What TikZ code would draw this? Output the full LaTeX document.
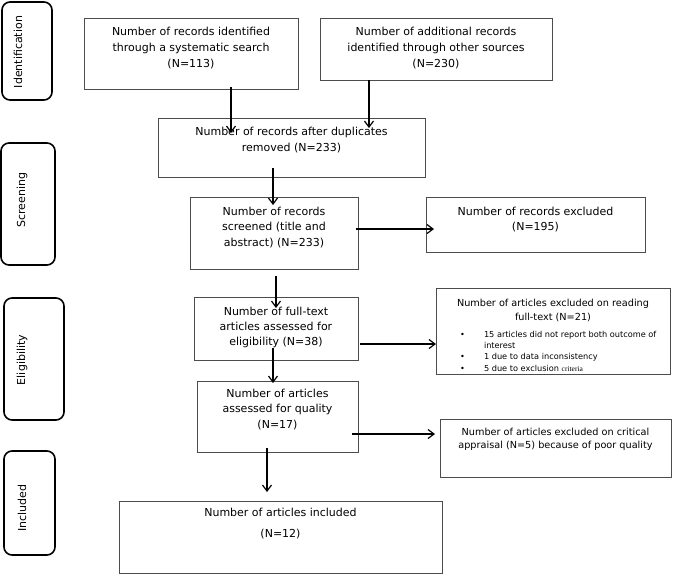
\documentclass[tikz,border=0pt]{standalone}
\usepackage{fontspec}
\setmainfont{DejaVu Sans}
\newfontfamily\smallserif{Liberation Serif}
\usetikzlibrary{arrows.meta}
\newcommand{\bxt}[5]{\parbox[c][#2][t]{#1}{\centering\fontsize{#4}{#5}\selectfont\rule{0pt}{#3}#5}}
\newcommand{\boxtxt}[5]{\parbox[c][#2][t]{#1}{\centering\fontsize{11}{#4}\selectfont\rule{0pt}{#3}#5}}
\tikzset{
  flowbox/.style={draw=black!70, line width=0.9pt, inner sep=0pt, outer sep=0pt, rectangle},
  sidebox/.style={draw=black, line width=1.6pt, rounded corners=8pt, inner sep=0pt, outer sep=0pt, rectangle},
  sidetext/.style={rotate=90, font=\fontsize{11}{13}\selectfont, inner sep=0pt},
  arr/.style={draw=black, line width=1.2pt, -{Straight Barb[length=6pt,width=9pt,line width=1.2pt]}}
}
\begin{document}
\begin{tikzpicture}[x=1pt,y=-1pt]
\useasboundingbox[fill=white] (0,0) rectangle (673,574);

% side labels
\node[sidebox, minimum width=50pt, minimum height=98pt] (sid) at (27,51) {};
\node[sidetext] (sidt) at (18,52) {Identification};
\node[sidebox, minimum width=54pt, minimum height=122pt] (sscr) at (28,204) {};
\node[sidetext] (sscrt) at (22,200) {Screening};
\node[sidebox, minimum width=60pt, minimum height=122pt] (selg) at (34,359) {};
\node[sidetext] (selgt) at (22,360) {Eligibility};
\node[sidebox, minimum width=51pt, minimum height=104pt] (sinc) at (29.5,503) {};
\node[sidetext] (sinct) at (22,508) {Included};

% flow boxes
\node[flowbox] (A) at (191,53.5) {\boxtxt{214pt}{71pt}{17pt}{16pt}{Number of records identified\\through a systematic search\\(N=113)}};
\node[flowbox] (B) at (436,49) {\boxtxt{232pt}{62pt}{17pt}{16pt}{Number of additional records\\identified through other sources\\(N=230)}};
\node[flowbox] (C) at (291.5,147.5) {\boxtxt{267pt}{59pt}{17pt}{16pt}{Number of records after duplicates\\removed (N=233)}};
\node[flowbox] (D) at (274,233) {\boxtxt{168pt}{72pt}{18pt}{15.5pt}{Number of records\\screened (title and\\abstract) (N=233)}};
\node[flowbox] (E) at (535.5,224.5) {\boxtxt{219pt}{55pt}{18pt}{15.5pt}{Number of records excluded\\(N=195)}};
\node[flowbox] (F) at (276,328.5) {\boxtxt{164pt}{63pt}{18pt}{15pt}{Number of full-text\\articles assessed for\\eligibility (N=38)}};
\node[flowbox] (G) at (553,331) {\parbox[c][86pt][t]{234pt}{\centering\fontsize{9.7}{14}\selectfont\rule{0pt}{18.5pt}Number of articles excluded on reading\\full-text (N=21)\par
\vspace{5.5pt}\raggedright\fontsize{8.2}{11.3}\selectfont
\hspace*{24pt}\makebox[24pt][l]{\textbullet}15 articles did not report both outcome of\\
\hspace*{48pt}interest\\
\hspace*{24pt}\makebox[24pt][l]{\textbullet}1 due to data inconsistency\\
\hspace*{24pt}\makebox[24pt][l]{\textbullet}5 due to exclusion {\smallserif\fontsize{7.5}{11.3}\selectfont criteria}\par}};
\node[flowbox] (H) at (277.5,416.5) {\boxtxt{161pt}{71pt}{16pt}{15.5pt}{Number of articles\\assessed for quality\\(N=17)}};
\node[flowbox] (I) at (555.5,448) {\parbox[c][58pt][t]{231pt}{\centering\fontsize{9.7}{13}\selectfont\rule{0pt}{16.5pt}Number of articles excluded on critical\\appraisal (N=5) because of poor quality}};
\node[flowbox] (J) at (280.5,537) {\boxtxt{323pt}{72pt}{15pt}{21pt}{Number of articles included\\(N=12)}};

% connectors
\draw[arr] ([xshift=40pt,yshift=2pt]A.south) -- ([xshift=-60.5pt,yshift=-15pt]C.north);
\draw[arr] ([xshift=-67pt]B.south) -- ([xshift=77.5pt,yshift=-10pt]C.north);
\draw[arr] ([xshift=-18.5pt,yshift=9pt]C.south) -- ([xshift=-1pt,yshift=-8pt]D.north);
\draw[arr] ([xshift=-2pt,yshift=4pt]D.east) -- ([xshift=8pt,yshift=-4.5pt]E.west);
\draw[arr] ([xshift=2pt,yshift=-7pt]D.south) -- ([yshift=-11pt]F.north);
\draw[arr] ([xshift=2pt,yshift=-15.5pt]F.east) -- ([yshift=-13pt]G.west);
\draw[arr] ([xshift=-3pt,yshift=12pt]F.south) -- ([xshift=-4.5pt,yshift=-2pt]H.north);
\draw[arr] ([xshift=-6pt,yshift=-17.5pt]H.east) -- ([xshift=-5pt,yshift=14pt]I.west);
\draw[arr] ([xshift=-10.5pt,yshift=4pt]H.south) -- ([xshift=-13.5pt,yshift=9pt]J.north);
\end{tikzpicture}
\end{document}
